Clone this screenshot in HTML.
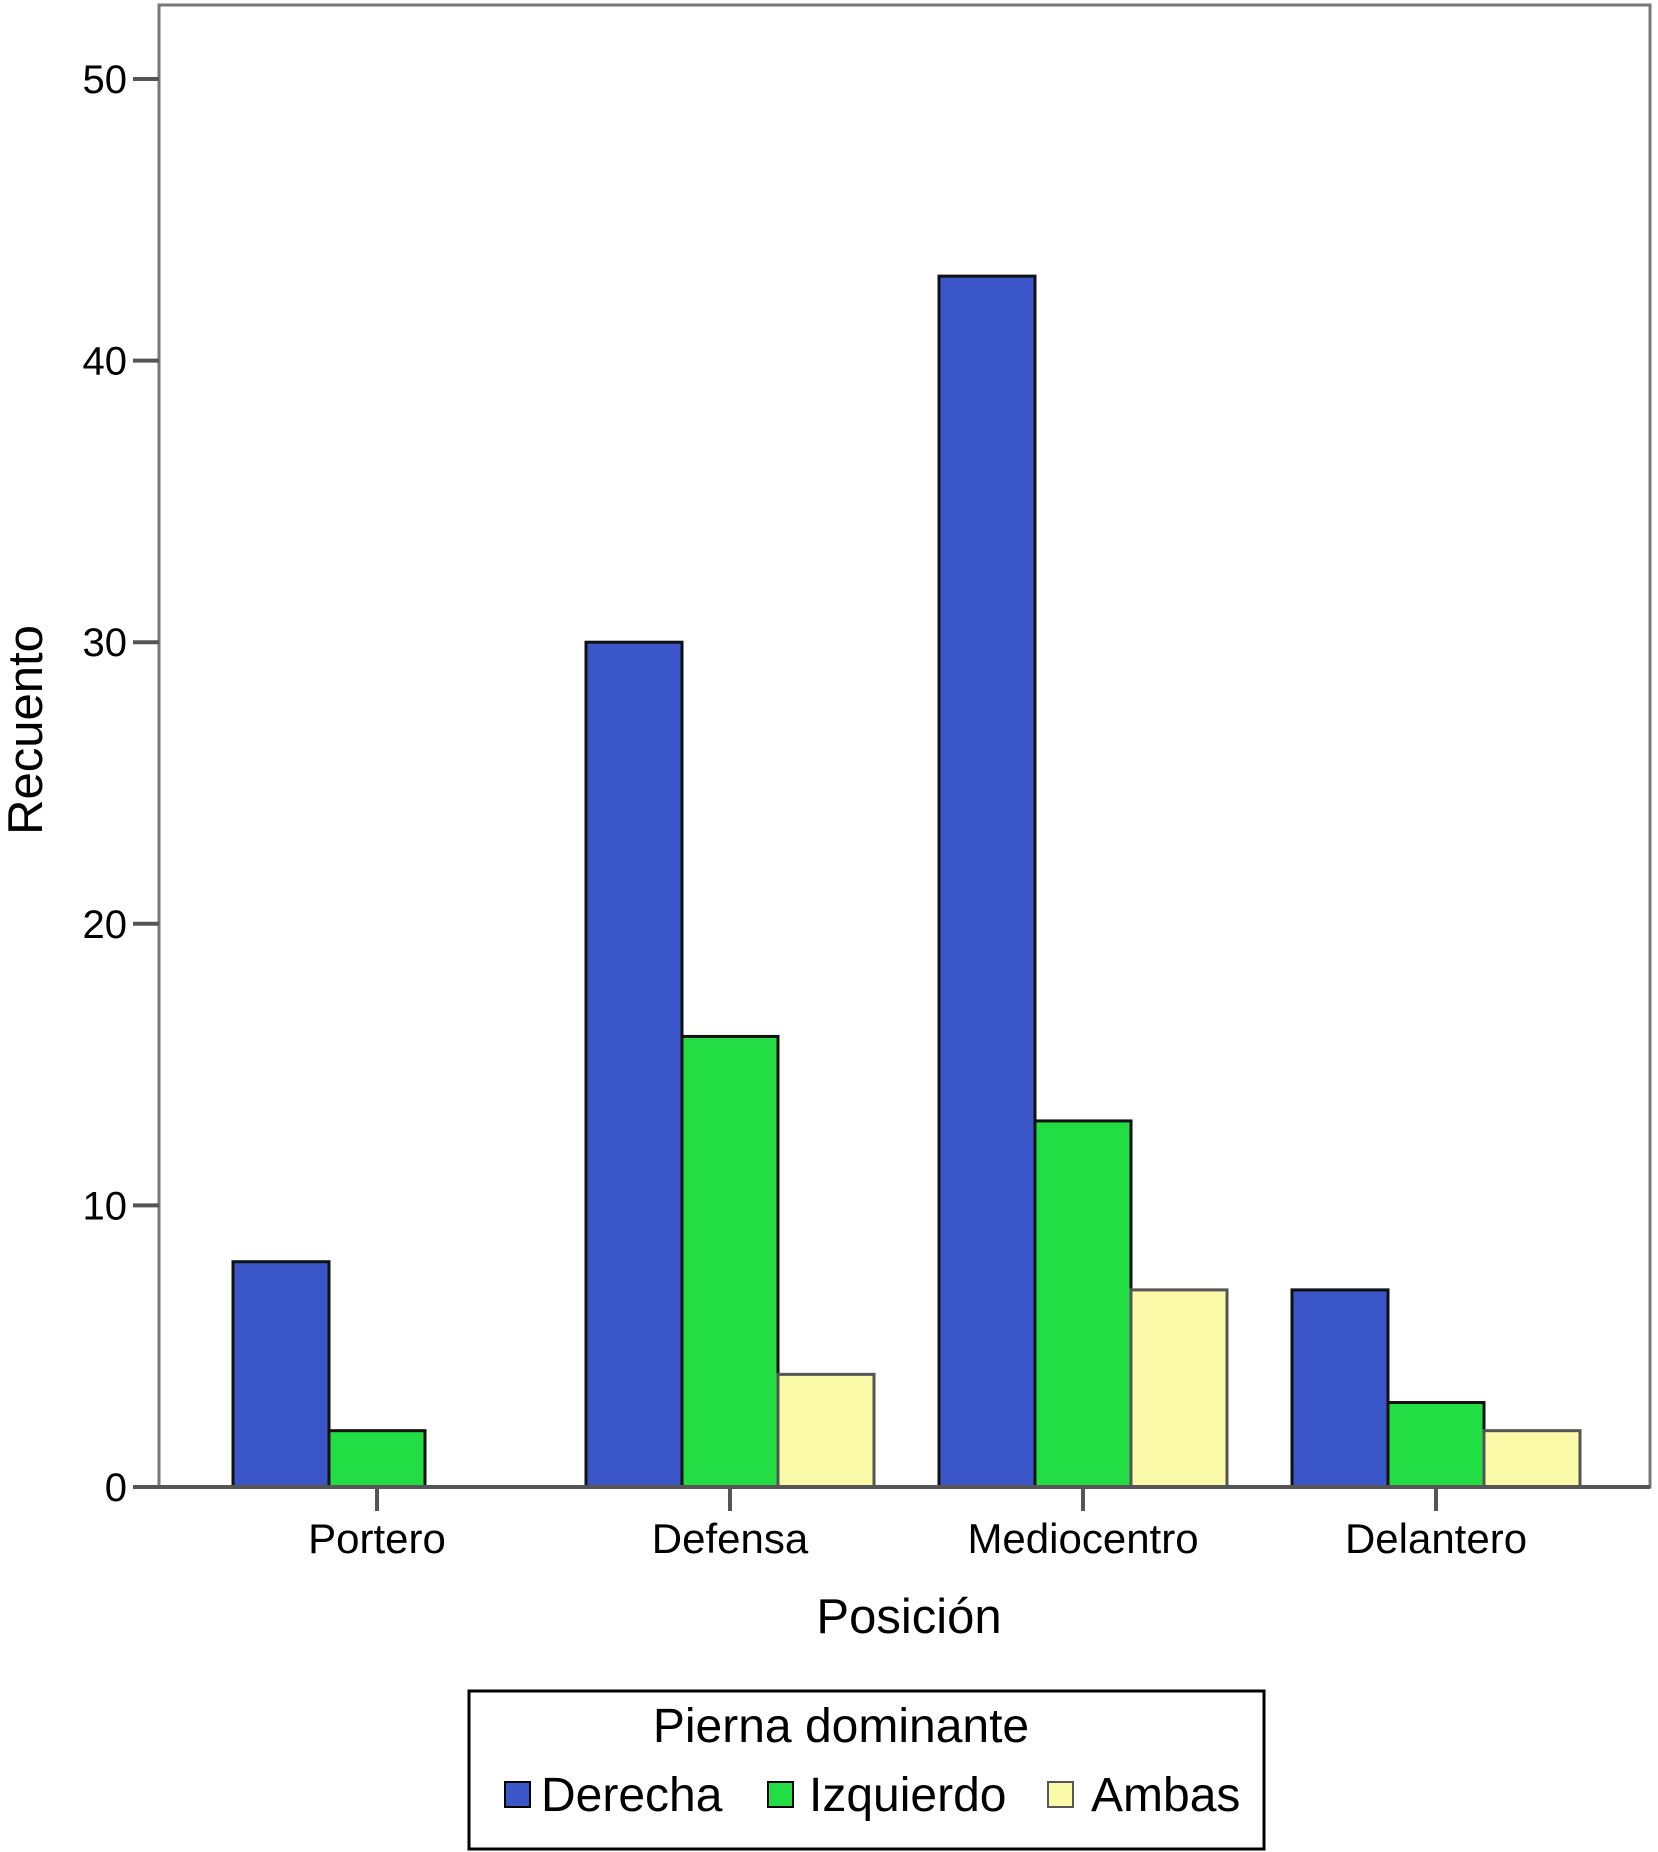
<!DOCTYPE html>
<html><head><meta charset="utf-8"><style>
html,body{margin:0;padding:0;background:#fff}
svg{display:block}
text{font-family:"Liberation Sans",Arial,sans-serif;fill:#000}
</style></head><body>
<svg id="chart" width="1658" height="1852" viewBox="0 0 1658 1852">
<rect x="159" y="5" width="1491" height="1482" fill="#fff" stroke="#777" stroke-width="3"/>
<g id="yaxis"></g>
<g id="bars"></g>
<g id="xaxis"></g>
<text x="26" y="730" font-size="49" text-anchor="middle" transform="rotate(-90 26 730)" dominant-baseline="central">Recuento</text>
<text x="909" y="1633" font-size="49" text-anchor="middle">Posición</text>
<g>
<rect x="469" y="1691" width="795" height="158" fill="#fff" stroke="#000" stroke-width="3"/>
<text x="841" y="1742" font-size="48" text-anchor="middle">Pierna dominante</text>
<rect x="505" y="1782" width="25" height="25" fill="#3a55c8" stroke="#000" stroke-width="2"/>
<text x="541" y="1811" font-size="48">Derecha</text>
<rect x="768" y="1782" width="25" height="25" fill="#22dd44" stroke="#000" stroke-width="2"/>
<text x="809" y="1811" font-size="48">Izquierdo</text>
<rect x="1048" y="1782" width="25" height="25" fill="#fafaa8" stroke="#555" stroke-width="2"/>
<text x="1091" y="1811" font-size="48">Ambas</text>
</g>
</svg>
<script>
const categories = ["Portero","Defensa","Mediocentro","Delantero"];
const derecha = [8,30,43,7];
const izquierdo = [2,16,13,3];
const ambas = [0,4,7,2];
const yTicks = [0,10,20,30,40,50];
const seriesNames = ["derecha","izquierdo","ambas"];
const NS = "http://www.w3.org/2000/svg";
const y0 = 1487, yPer = 28.16;
function yScale(v){ return y0 - v*yPer; }
function xCenter(i){ return 377 + i*353; }
const barW = 96;
const series = [derecha, izquierdo, ambas];
const fills = ["#3a55c8","#22dd44","#fafaa8"];
const strokes = ["#111","#111","#555"];
function mk(tag, attrs, parent){ const e=document.createElementNS(NS,tag); for(const k in attrs) e.setAttribute(k, attrs[k]); parent.appendChild(e); return e; }
const yg = document.getElementById('yaxis');
yTicks.forEach(t=>{
  const l = mk('line',{x1:133,x2:159,y1:yScale(t),y2:yScale(t),stroke:'#555','stroke-width':4},yg);
  
  
  const tx = mk('text',{x:127,y:yScale(t)+14,'font-size':40,'text-anchor':'end'},yg);
  tx.textContent = t;
  
  
});
const bg = document.getElementById('bars');
categories.forEach((c,i)=>{
  series.forEach((s,k)=>{
    const v = s[i];
    if (v <= 0) return;
    const x = xCenter(i) - 1.5*barW + k*barW;
    const r = mk('rect',{x:x,y:yScale(v),width:barW,height:y0-yScale(v),fill:fills[k],stroke:strokes[k],'stroke-width':3},bg);
    
    
  });
});
const xg = document.getElementById('xaxis');
const base = mk('line',{x1:133,x2:1650,y1:y0,y2:y0,stroke:'#555','stroke-width':4},xg);


categories.forEach((c,i)=>{
  const l = mk('line',{x1:xCenter(i),x2:xCenter(i),y1:y0,y2:y0+24,stroke:'#555','stroke-width':4},xg);
  
  
  const tx = mk('text',{x:xCenter(i),y:1553,'font-size':42,'text-anchor':'middle'},xg);
  tx.textContent = c;
  
  
});
</script>
</body></html>
